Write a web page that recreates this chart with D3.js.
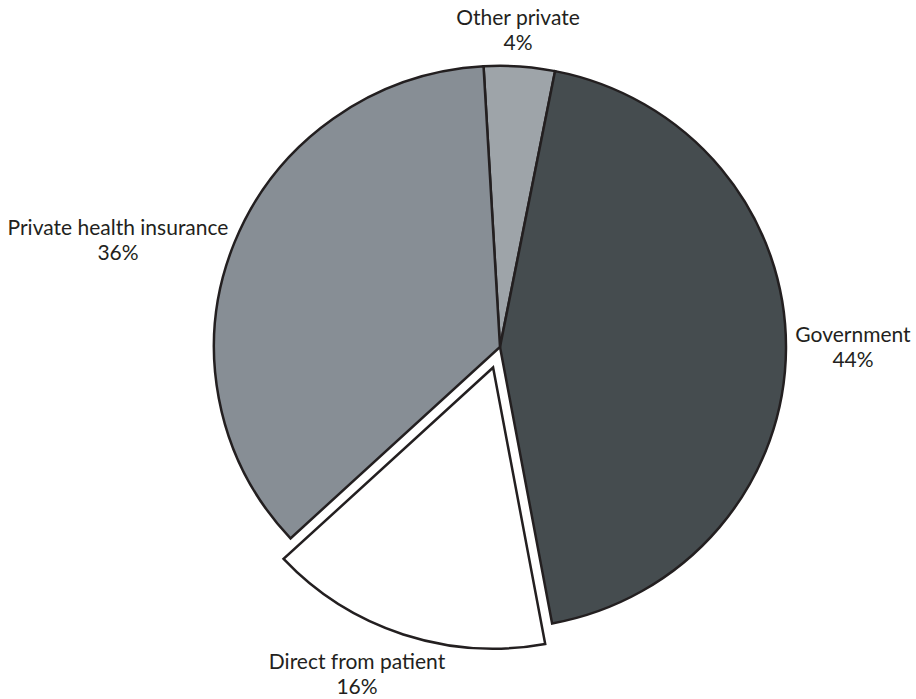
<!DOCTYPE html>
<html>
<head>
<meta charset="utf-8">
<script src="https://cdn.jsdelivr.net/npm/d3@7"></script>
<style>
  body { margin: 0; background: #fff; }
  svg text { font-family: Lato, "Open Sans", sans-serif; font-weight: 400; fill: #231f20; }
</style>
</head>
<body>
<div id="chart"></div>
<script>
// ------ DATA ------
const categories = ['Other private', 'Government', 'Direct from patient', 'Private health insurance'];
const shares = [4, 44, 16, 36];            // percent
const sliceColors = ['#9ea4a9', '#454c4f', '#ffffff', '#878e95'];
const explodedSlice = 'Direct from patient';

// label placement: centre x and baseline of first line, page coords
const labelPos = {
  'Other private': [518, 25],
  'Government': [853, 342],
  'Direct from patient': [357, 669],
  'Private health insurance': [118, 235]
};

// ------ LAYOUT ------
const width = 916, height = 699;
const cx = 500, cy = 347, radius = 286;
const squash = 0.983;        // the original pie is a touch flatter than round
const startDeg = -3.3;
const explodeBy = 22;
const lineGap = 25;

const svg = d3.select('#chart')
  .append('svg')
    .attr('width', width)
    .attr('height', height);

const pie = d3.pie()
  .sort(null)
  .value(d => d.value)
  .startAngle(startDeg * Math.PI / 180)
  .endAngle((startDeg + 360) * Math.PI / 180);

const arc = d3.arc().innerRadius(0).outerRadius(radius);

const data = categories.map((c, i) => ({ name: c, value: shares[i], color: sliceColors[i] }));
const arcs = pie(data);

const g = svg.append('g').attr('transform', `translate(${cx},${cy}) scale(1,${squash})`);

g.selectAll('path')
  .data(arcs)
  .join('path')
    .attr('d', arc)
    .attr('fill', d => d.data.color)
    .attr('stroke', '#231f20')
    .attr('stroke-width', 2.5)
    .attr('vector-effect', 'non-scaling-stroke')
    .attr('transform', d => {
      if (d.data.name !== explodedSlice) return null;
      const mid = (d.startAngle + d.endAngle) / 2;
      return `translate(${explodeBy * Math.sin(mid)},${-explodeBy * Math.cos(mid)})`;
    });

// labels
const labels = svg.selectAll('g.label')
  .data(arcs)
  .join('g')
    .attr('class', 'label')
    .attr('transform', d => `translate(${labelPos[d.data.name][0]},${labelPos[d.data.name][1]})`);

labels.append('text')
  .attr('text-anchor', 'middle')
  .attr('font-size', 21)
  .text(d => d.data.name);

labels.append('text')
  .attr('text-anchor', 'middle')
  .attr('font-size', 21)
  .attr('y', lineGap)
  .text(d => d.data.value + '%');
</script>
</body>
</html>
